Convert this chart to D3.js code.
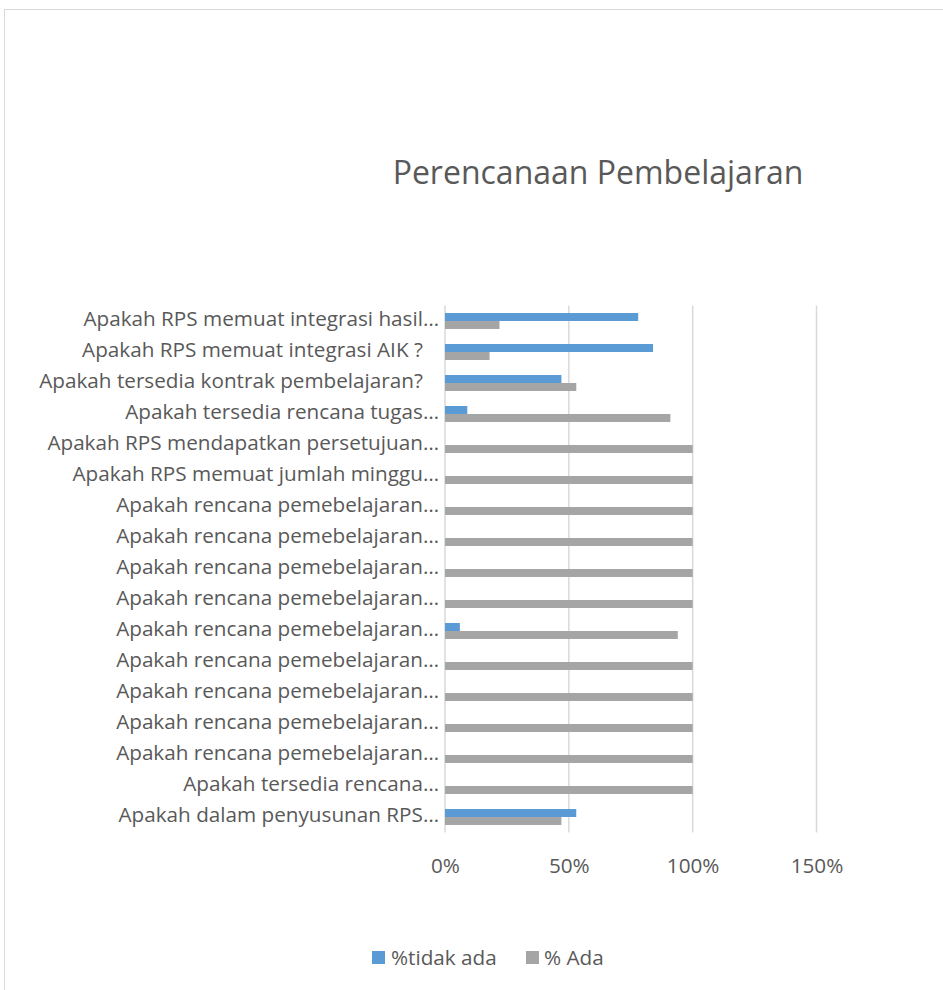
<!DOCTYPE html>
<html><head><meta charset="utf-8">
<script src="https://cdn.jsdelivr.net/npm/d3@7"></script>
<style>body{margin:0;background:#fff;overflow:hidden} text{white-space:pre}</style>
</head><body>
<script>
const categories = [
  "Apakah RPS memuat integrasi hasil…",
  "Apakah RPS memuat integrasi AIK ?\u00A0\u00A0\u00A0",
  "Apakah tersedia kontrak pembelajaran?\u00A0\u00A0\u00A0",
  "Apakah tersedia rencana tugas…",
  "Apakah RPS mendapatkan persetujuan…",
  "Apakah RPS memuat jumlah minggu…",
  "Apakah rencana pemebelajaran…",
  "Apakah rencana pemebelajaran…",
  "Apakah rencana pemebelajaran…",
  "Apakah rencana pemebelajaran…",
  "Apakah rencana pemebelajaran…",
  "Apakah rencana pemebelajaran…",
  "Apakah rencana pemebelajaran…",
  "Apakah rencana pemebelajaran…",
  "Apakah rencana pemebelajaran…",
  "Apakah tersedia rencana…",
  "Apakah dalam penyusunan RPS…"
];
const tidakAda = [0.78, 0.84, 0.47, 0.09, 0, 0, 0, 0, 0, 0, 0.06, 0, 0, 0, 0, 0, 0.53];
const ada      = [0.22, 0.18, 0.53, 0.91, 1, 1, 1, 1, 1, 1, 0.94, 1, 1, 1, 1, 1, 0.47];
const seriesNames = ["%tidak ada", "% Ada"];
const tickValues = [0, 0.5, 1, 1.5];

const W = 943, H = 990;
const font = "'Open Sans', sans-serif";
const txt = "#595959";
const colors = ["#5B9BD5", "#A5A5A5"];
const fs = 20.7;

const svg = d3.select("body").append("svg").attr("width", W).attr("height", H);
svg.append("rect").attr("x", 4.5).attr("y", 9.5).attr("width", 1000).attr("height", 1000)
  .attr("fill", "#fff").attr("stroke", "#d9d9d9");

svg.append("text").attr("x", 598).attr("y", 184).attr("text-anchor", "middle")
  .attr("font-family", font).attr("font-size", 32).attr("fill", txt)
  .text("Perencanaan Pembelajaran");

const x = d3.scaleLinear().domain([0, 1.5]).range([445, 816.5]);
const y = d3.scaleBand().domain(d3.range(categories.length)).range([305.5, 832.5]).paddingInner(0.485).paddingOuter(0.2425);
const inner = d3.scaleBand().domain([0, 1]).range([0, y.bandwidth()]);

svg.append("g").selectAll("line").data(tickValues).join("line")
  .attr("x1", d => x(d)).attr("x2", d => x(d))
  .attr("y1", 305.5).attr("y2", 832.5)
  .attr("stroke", "#d9d9d9").attr("stroke-width", 1.5);

const xAxis = d3.axisBottom(x).tickValues(tickValues).tickFormat(d3.format(".0%")).tickSize(0).tickPadding(0);
const gx = svg.append("g").attr("transform", "translate(0,873)").call(xAxis);
gx.select(".domain").remove();
gx.selectAll("text").attr("font-family", font).attr("font-size", fs).attr("fill", txt).attr("dy", 0);

const yAxis = d3.axisLeft(y).tickFormat(i => categories[i]).tickSize(0).tickPadding(6);
const gy = svg.append("g").attr("transform", "translate(445,0)").call(yAxis);
gy.select(".domain").remove();
gy.selectAll("text").attr("font-family", font).attr("font-size", fs).attr("fill", txt).attr("dy", "0.24em");

const data = [tidakAda, ada];
data.forEach((vals, s) => {
  svg.append("g").selectAll("rect").data(vals).join("rect")
    .attr("x", x(0))
    .attr("y", (d, i) => y(i) + inner(s))
    .attr("width", d => x(d) - x(0))
    .attr("height", inner.bandwidth())
    .attr("fill", colors[s]);
});

const leg = svg.append("g");
const legItems = [{x: 372, tx: 391}, {x: 526, tx: 544}];
seriesNames.forEach((n, i) => {
  leg.append("rect").attr("x", legItems[i].x).attr("y", 951).attr("width", 13).attr("height", 13).attr("fill", colors[i]);
  leg.append("text").attr("x", legItems[i].tx).attr("y", 965).attr("font-family", font)
    .attr("font-size", fs).attr("fill", txt).text(n);
});
</script>
</body></html>
